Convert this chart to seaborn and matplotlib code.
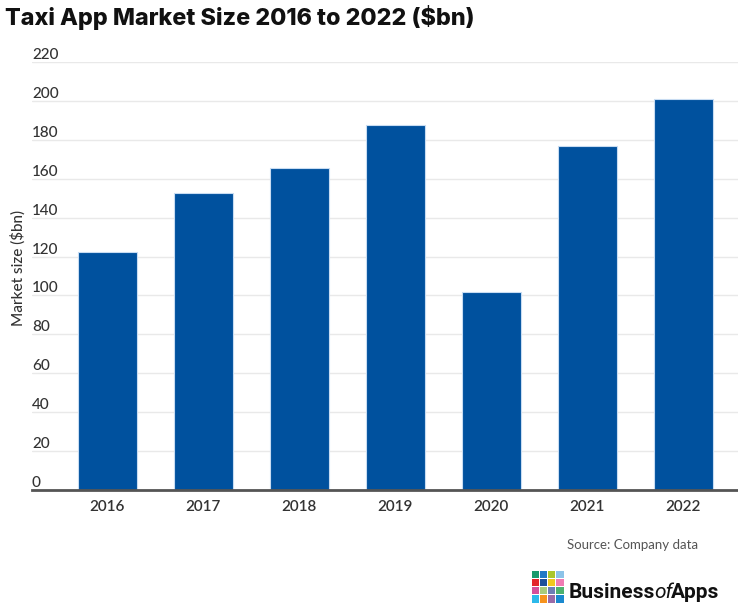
import matplotlib
matplotlib.use("Agg")
import matplotlib.pyplot as plt
import matplotlib.transforms as mtransforms
from matplotlib.patches import Rectangle
import seaborn as sns
import pandas as pd

years = ["2016", "2017", "2018", "2019", "2020", "2021", "2022"]
market_size = [122.5, 152.5, 165.5, 187.5, 102, 177, 201]
y_ticks = [0, 20, 40, 60, 80, 100, 120, 140, 160, 180, 200, 220]
title = "Taxi App Market Size 2016 to 2022 ($bn)"
y_label = "Market size ($bn)"
source = "Source: Company data"
logo_words = ["Business", "of", "Apps"]
logo_colors = [
    ["#1a9a6c", "#1f78c4", "#a9c62c", "#8cc3e8"],
    ["#e3262b", "#1d4f9a", "#f1c81f", "#ef7cb3"],
    ["#d4509b", "#a8cb7c", "#6c7fb6", "#4db16f"],
    ["#2cb9ea", "#f6931e", "#9a6ba8", "#1a89cf"],
]

sns.set_theme(style="white")
plt.rcParams["font.family"] = ["Lato", "DejaVu Sans"]

W, H = 738, 609
fig = plt.figure(figsize=(W / 100, H / 100), dpi=100)
ax = fig.add_axes([32 / W, 1 - 490 / H, (738 - 32) / W, (490 - 62) / H])

df = pd.DataFrame({"year": years, "size": market_size})
sns.barplot(data=df, x="year", y="size", color="#00519e", saturation=1,
            width=0.615, edgecolor="#c8dcf2", linewidth=0.8, ax=ax, zorder=3)

ax.set_xlim(-0.786, 6.57)
ax.set_ylim(0, 220)
ax.set_yticks(y_ticks)
ax.yaxis.grid(True, color="#e9e9e9", linewidth=1, zorder=0)
ax.set_axisbelow(True)
ax.tick_params(axis="y", left=False, labelleft=False)
ax.tick_params(axis="x", bottom=False, labelsize=11, labelcolor="#333333", pad=1.5)
for lab in ax.get_xticklabels():
    lab.set_fontweight("semibold")
ax.set_xlabel("")
ax.set_ylabel("")
for s in ["top", "right", "left"]:
    ax.spines[s].set_visible(False)
ax.spines["bottom"].set_color("#555555")
ax.spines["bottom"].set_linewidth(2)
ax.spines["bottom"].set_zorder(5)

trans = mtransforms.blended_transform_factory(ax.transAxes, ax.transData)
for v in y_ticks:
    ax.text(0, v, str(v), transform=trans, ha="left", va="bottom",
            fontsize=11, fontweight="medium", color="#333333")

fig.text(18 / W, 1 - 268 / H, y_label, rotation=90, ha="center", va="center",
         fontsize=11, fontweight="medium", color="#333333")

fig.text(5 / W, 1 - 17 / H, title, ha="left", va="center", fontsize=16.8,
         fontweight="heavy", family=["Inter", "DejaVu Sans"], color="#111111")

fig.text(698 / W, 1 - 545 / H, source, ha="right", va="center", fontsize=9.5,
         color="#555555")

# logo
sq = 7.2
gap = 0.9
x0, y0 = 532, 571
for r, row in enumerate(logo_colors):
    for c, col in enumerate(row):
        fig.patches.append(Rectangle(((x0 + c * (sq + gap)) / W,
                                      1 - (y0 + r * (sq + gap) + sq) / H),
                                     sq / W, sq / H, transform=fig.transFigure,
                                     facecolor=col, edgecolor="none"))
renderer = fig.canvas.get_renderer()
xpos = 569
styles = [dict(fontweight="bold", fontstyle="normal"),
          dict(fontweight="normal", fontstyle="italic"),
          dict(fontweight="bold", fontstyle="normal")]
for word, st in zip(logo_words, styles):
    t = fig.text(xpos / W, 1 - 598 / H, word, ha="left", va="baseline",
                 fontsize=15, family=["Roboto", "DejaVu Sans"],
                 color="#111111", **st)
    bb = t.get_window_extent(renderer)
    xpos += bb.width - 1.5

fig.savefig("out.png", dpi=100)
